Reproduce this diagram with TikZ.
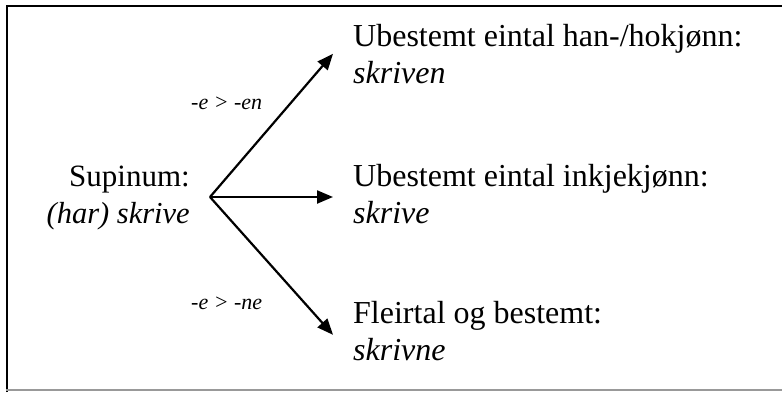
\documentclass[tikz,border=0pt]{standalone}
\usepackage{fontspec}
\setmainfont{Liberation Serif}
\usetikzlibrary{arrows.meta}
\begin{document}
\begin{tikzpicture}[x=1pt,y=-1pt,
  big/.style={font=\fontsize{32}{36.5}\selectfont, inner sep=0pt, align=left, anchor=base west},
  lab/.style={font=\fontsize{22}{24}\selectfont\itshape, inner sep=0pt, anchor=base west},
  arr/.style={line width=2.2pt, -{Triangle[length=16pt,width=13pt]}}]
\useasboundingbox (0,0) rectangle (782,392);
\draw[line width=2pt] (7,392) -- (7,6) -- (790,6);
\draw[line width=1.5pt, gray!80] (6,390) -- (790,390);
\node[big, align=right, anchor=base east] (sup) at (190,223) {\fontsize{31}{36.5}\selectfont Supinum:\\\fontsize{30.5}{36.5}\selectfont\textit{(har) skrive}};
\node[big] (t1) at (353,83) {Ubestemt eintal han-/hokjønn:\\\textit{skriven}};
\node[big] (t2) at (353,223) {Ubestemt eintal inkjekjønn:\\\textit{skrive}};
\node[big] (t3) at (353,360) {Fleirtal og bestemt:\\\textit{skrivne}};
\coordinate (o) at (210,197);
\coordinate (e1) at ([xshift=-20pt]t1.west);
\coordinate (e2) at ([xshift=-20pt]t2.west |- o);
\coordinate (e3) at ([xshift=-20pt,yshift=-4pt]t3.west);
\draw[arr] (o) -- (e1);
\draw[arr] (o) -- (e2);
\draw[arr] (o) -- (e3);
\node[lab] (l1) at (191,109) {-e > -en};
\node[lab] (l2) at (191,309) {-e > -ne};
\end{tikzpicture}
\end{document}
